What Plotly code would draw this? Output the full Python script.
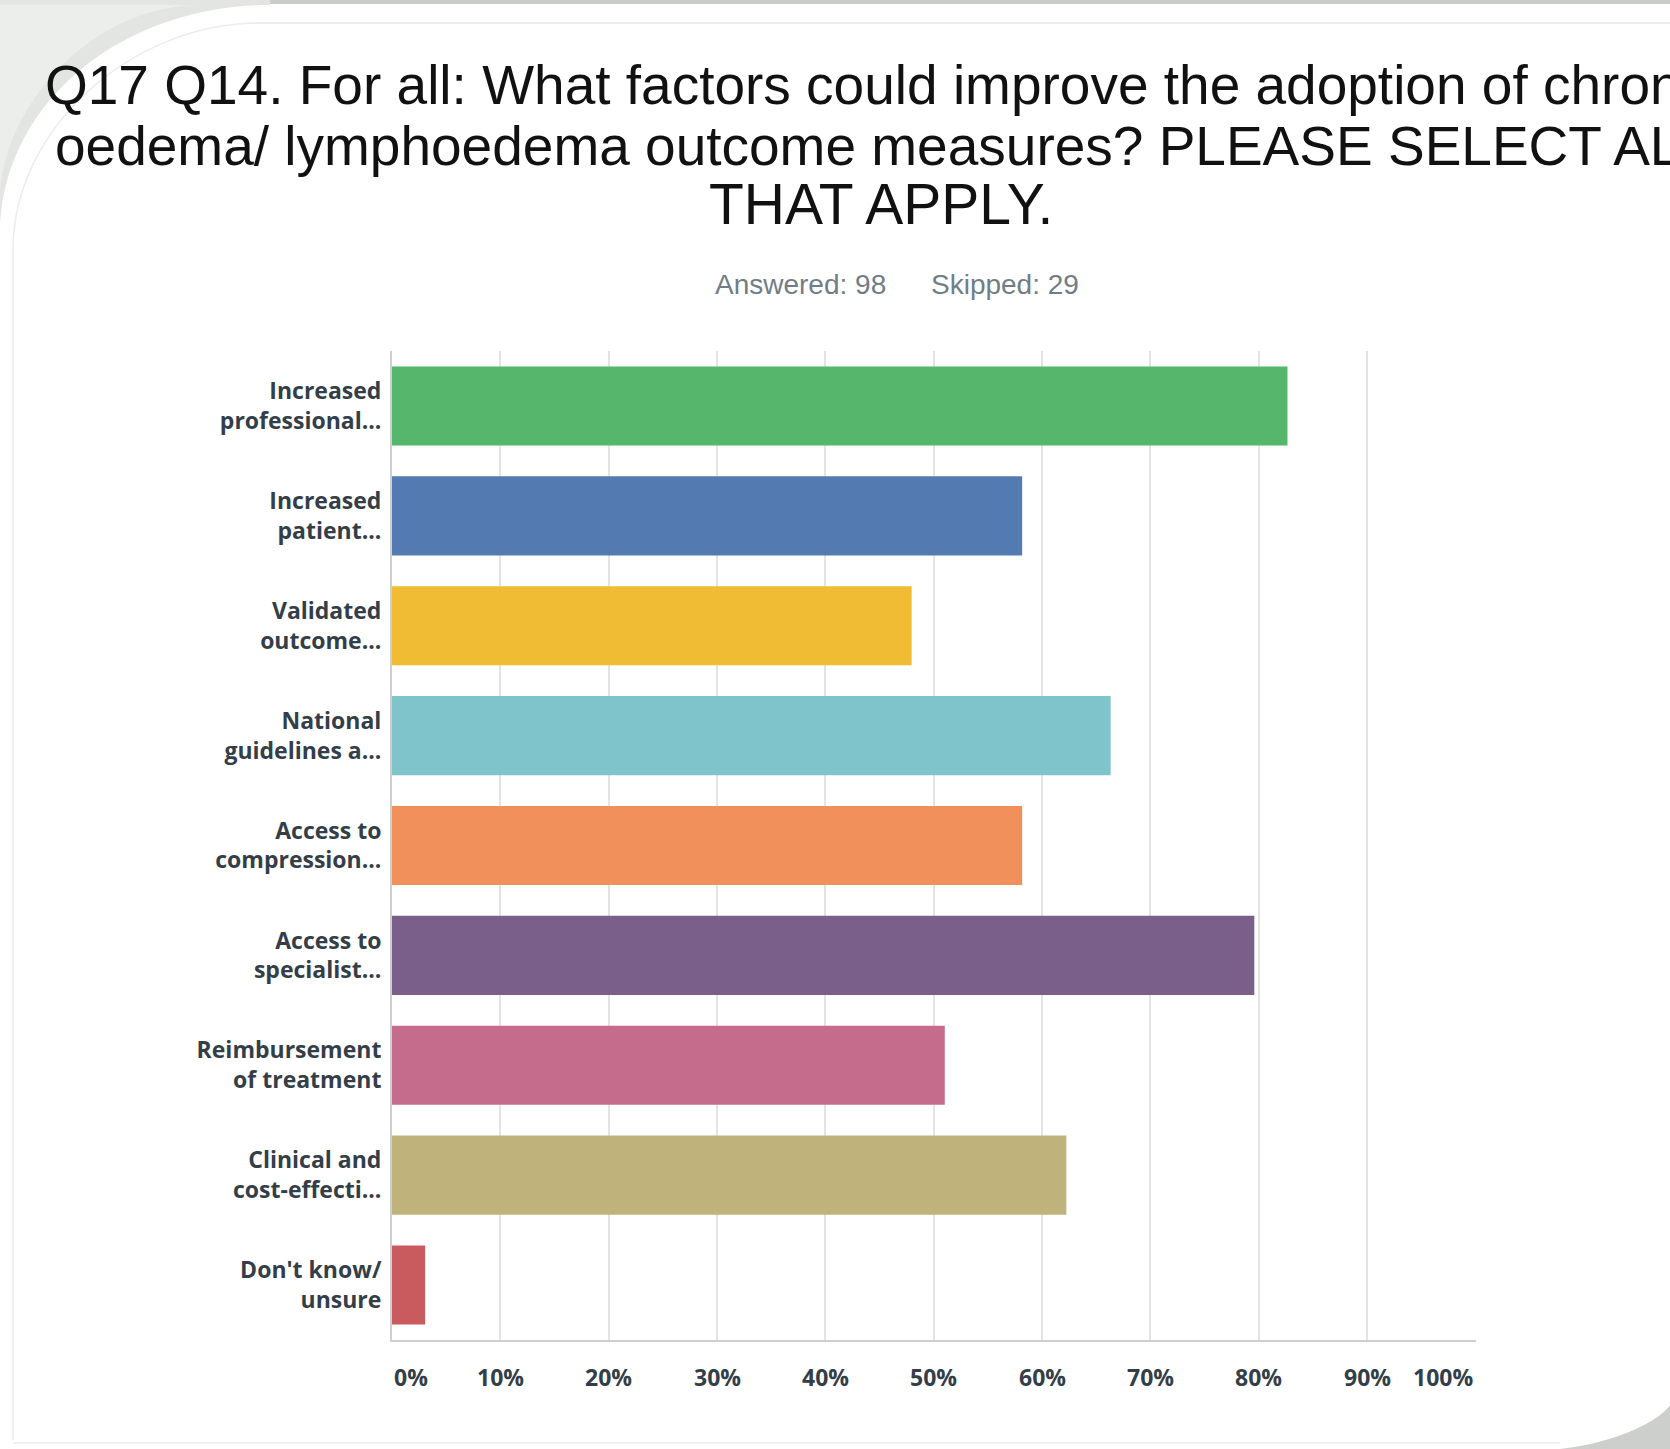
import plotly.graph_objects as go

# ---------------- data ----------------
categories = [
    "Increased<br>professional...",
    "Increased<br>patient...",
    "Validated<br>outcome...",
    "National<br>guidelines a...",
    "Access to<br>compression...",
    "Access to<br>specialist...",
    "Reimbursement<br>of treatment",
    "Clinical and<br>cost-effecti...",
    "Don't know/<br>unsure",
]
values = [82.65, 58.16, 47.96, 66.33, 58.16, 79.59, 51.02, 62.24, 3.06]
bar_colors = ["#55b66c", "#537ab1", "#efbc33", "#7fc4ca", "#f1905a",
              "#7a5f8a", "#c56b8b", "#c0b27b", "#c95a5d"]
tick_values = [0, 10, 20, 30, 40, 50, 60, 70, 80, 90, 100]
tick_labels = ["0%", "10%", "20%", "30%", "40%", "50%", "60%", "70%", "80%", "90%", "100%"]
title_lines = [
    "Q17 Q14. For all: What factors could improve the adoption of chronic",
    "oedema/ lymphoedema outcome measures? PLEASE SELECT ALL",
    "THAT APPLY.",
]
subtitle_parts = ["Answered: 98", "Skipped: 29"]

# ---------------- layout geometry ----------------
W, H = 1670, 1449
L, R, T, B = 392, 194, 351, 109
PW, PH = W - L - R, H - T - B


def px(x):
    return (x - L) / PW


def py(y):
    return (H - B - y) / PH


LABEL_FONT = "'Open Sans', 'Noto Sans', sans-serif"
LABEL_COLOR = "#333e48"

fig = go.Figure()
fig.add_trace(go.Bar(
    x=values,
    y=categories,
    orientation="h",
    width=0.72,
    marker=dict(color=bar_colors, line=dict(width=0)),
    hoverinfo="x+y",
))

annotations = []
# title lines
title_font = dict(family="'Liberation Sans', Arial, sans-serif", size=55, color="#111111")
annotations.append(dict(text=title_lines[0], x=px(43), y=py(85), xref="paper", yref="paper",
                        xanchor="left", yanchor="middle", showarrow=False, font=title_font))
annotations.append(dict(text=title_lines[1], x=px(53), y=py(146), xref="paper", yref="paper",
                        xanchor="left", yanchor="middle", showarrow=False, font=title_font))
annotations.append(dict(text=title_lines[2], x=px(881), y=py(204), xref="paper", yref="paper",
                        xanchor="center", yanchor="middle", showarrow=False,
                        font=dict(family="'Liberation Sans', Arial, sans-serif", size=57, color="#111111")))
# subtitle
sub_font = dict(family="'Liberation Sans', Arial, sans-serif", size=28, color="#717d86")
annotations.append(dict(text=subtitle_parts[0], x=px(888), y=py(284), xref="paper", yref="paper",
                        xanchor="right", yanchor="middle", showarrow=False, font=sub_font))
annotations.append(dict(text=subtitle_parts[1], x=px(929), y=py(284), xref="paper", yref="paper",
                        xanchor="left", yanchor="middle", showarrow=False, font=sub_font))
# x tick labels (first left-aligned, last right-aligned as in the original)
for i, (tv, tl) in enumerate(zip(tick_values, tick_labels)):
    anchor = "left" if i == 0 else ("right" if i == len(tick_values) - 1 else "center")
    annotations.append(dict(text="<b>" + tl + "</b>", x=tv, y=py(1377), xref="x", yref="paper",
                            xanchor=anchor, yanchor="middle", showarrow=False,
                            font=dict(family=LABEL_FONT, size=23, color=LABEL_COLOR)))

shapes = [
    # grey strip at the very top
    dict(type="rect", xref="paper", yref="paper", x0=px(0), x1=px(W), y0=py(0), y1=py(4),
         fillcolor="#c9ccc9", line=dict(width=0), layer="below"),
    # top-left shadow corner
    dict(type="path", xref="paper", yref="paper",
         path=f"M {px(0)},{py(235)} C {px(0)},{py(105)} {px(120)},{py(5)} {px(270)},{py(5)} "
              f"L {px(270)},{py(0)} L {px(0)},{py(0)} Z",
         fillcolor="#e3e5e3", line=dict(width=0), layer="below"),
    dict(type="path", xref="paper", yref="paper",
         path=f"M {px(0)},{py(200)} C {px(0)},{py(110)} {px(90)},{py(5)} {px(200)},{py(5)} "
              f"L {px(0)},{py(5)} Z",
         fillcolor="#eceeec", line=dict(width=0), layer="below"),
    # faint inner border lines
    dict(type="line", xref="paper", yref="paper", x0=px(260), x1=px(W), y0=py(23), y1=py(23),
         line=dict(color="#e8e8e8", width=1.5), layer="below"),
    dict(type="path", xref="paper", yref="paper",
         path=f"M {px(13)},{py(1440)} L {px(13)},{py(250)} C {px(13)},{py(130)} {px(130)},{py(23)} {px(260)},{py(23)}",
         line=dict(color="#ececec", width=1.5), layer="below"),
    dict(type="line", xref="paper", yref="paper", x0=px(13), x1=px(1560), y0=py(1443), y1=py(1443),
         line=dict(color="#ececec", width=1.5), layer="below"),
    # bottom-right shadow corner
    dict(type="path", xref="paper", yref="paper",
         path=f"M {px(1560)},{py(H)} C {px(1620)},{py(1442)} {px(1660)},{py(1420)} {px(W)},{py(1405)} "
              f"L {px(W)},{py(H)} Z",
         fillcolor="#cdcfcd", line=dict(width=0), layer="below"),
]

fig.update_layout(
    width=W, height=H, autosize=False,
    margin=dict(l=L, r=R, t=T, b=B, pad=0),
    paper_bgcolor="white", plot_bgcolor="white",
    showlegend=False,
    annotations=annotations,
    shapes=shapes,
    xaxis=dict(
        range=[0, 100.05], tickvals=tick_values, showticklabels=False,
        showgrid=True, gridcolor="#e4e4e4", gridwidth=1.5,
        zeroline=False, showline=True, linecolor="#cfcfcf", linewidth=2,
        mirror=False, fixedrange=True,
    ),
    yaxis=dict(
        autorange="reversed", showgrid=False, zeroline=False,
        showline=True, linecolor="#cfcfcf", linewidth=2,
        ticks="outside", ticklen=4, tickcolor="rgba(0,0,0,0)",
        tickfont=dict(family=LABEL_FONT, size=23, color=LABEL_COLOR, weight="bold"),
        fixedrange=True,
    ),
)

fig.write_html("out.html", config={"displayModeBar": False},
               post_script="document.body.style.margin='0';")
